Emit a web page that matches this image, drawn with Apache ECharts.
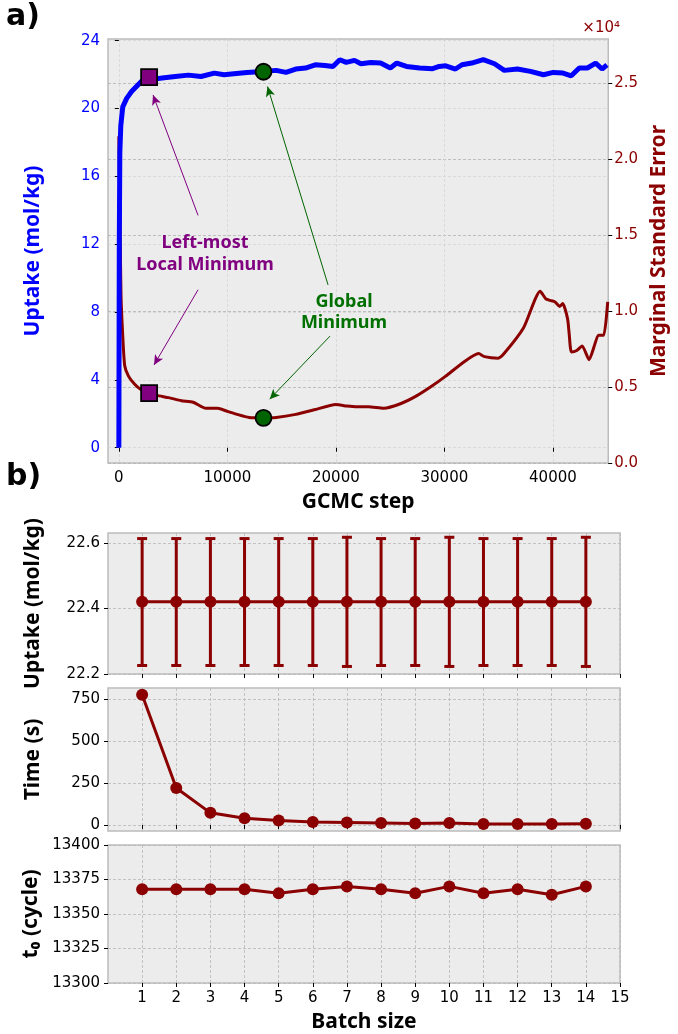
<!DOCTYPE html>
<html>
<head>
<meta charset="utf-8">
<script src="https://cdn.jsdelivr.net/npm/echarts@6/dist/echarts.min.js"></script>
<style>
  html, body { margin: 0; padding: 0; background: #fff; }
  #main { width: 678px; height: 1034px; }
</style>
</head>
<body>
<div id="main"></div>
<script>
// ---- panel a) : uptake + marginal standard error vs GCMC step ----
const uptakeStep = [0, 40, 90, 180, 360, 720, 1170, 1620, 2070, 2790, 3400, 3990, 5200, 6400, 7570,
  8800, 9700, 10600, 11800, 13300, 14500, 15400, 16300, 17200, 18100, 19000, 19730, 20360, 20960,
  21710, 22310, 23220, 24120, 25020, 25610, 26510, 27720, 28920, 29520, 30120, 31020, 31620, 32520,
  33580, 34620, 35520, 36730, 37930, 39130, 40030, 40930, 41690, 42430, 43180, 43940, 44530, 44980];
const uptake = [0, 12, 17.4, 19.0, 20.1, 20.6, 21.0, 21.3, 21.6, 21.85, 21.75, 21.80, 21.89, 21.97, 21.89,
  22.09, 21.99, 22.05, 22.13, 22.19, 22.25, 22.13, 22.33, 22.39, 22.58, 22.54, 22.48, 22.88, 22.72,
  22.84, 22.64, 22.72, 22.68, 22.39, 22.68, 22.48, 22.39, 22.35, 22.48, 22.52, 22.33, 22.58, 22.68,
  22.88, 22.64, 22.25, 22.33, 22.19, 21.99, 22.13, 22.09, 21.93, 22.39, 22.39, 22.68, 22.33, 22.58];

const mseStep = [0, 100, 200, 350, 540, 900, 1440, 2000, 2790, 3500, 4590, 5760, 6850, 8020, 9100,
  10000, 10900, 12000, 13330, 14500, 16300, 18000, 20000, 21000, 21980, 23000, 24410, 25950, 27390,
  28920, 30090, 31890, 33150, 33690, 34950, 35500, 37300, 38830, 39350, 39730, 40200, 40630, 40900,
  41350, 41500, 41710, 42200, 42700, 43330, 44230, 44680, 45050];
const mse = [21500, 16000, 11000, 8500, 6400, 5700, 5200, 4850, 4600, 4450, 4300, 4100, 4000, 3600, 3600,
  3400, 3200, 3000, 2970, 3000, 3200, 3500, 3850, 3750, 3700, 3700, 3600, 3900, 4400,
  5100, 5700, 6700, 7200, 7000, 6900, 7200, 8900, 11300, 10800, 10700, 10600, 10300, 10500,
  9500, 8500, 7300, 7400, 7700, 6800, 8400, 8400, 10600];

// highlighted minima
const localMin = { step: 2790, uptake: 21.85, mse: 4600 };
const globalMin = { step: 13330, uptake: 22.17, mse: 2970 };

// annotation arrows, [from, to] in data units
const arrowLocalUp = [[7300, 13.7], [3150, 20.8]];
const arrowLocalDown = [[7300, 11400], [3240, 6450]];
const arrowGlobalUp = [[19280, 9.6], [13700, 21.3]];
const arrowGlobalDown = [[19460, 8350], [13900, 4200]];

const stepTicks = [0, 10000, 20000, 30000, 40000];
const uptakeTicks = [0, 4, 8, 12, 16, 20, 24];
const mseTicks = [0, 5000, 10000, 15000, 20000, 25000];

// ---- panel b) : convergence vs batch size ----
const batch = [1, 2, 3, 4, 5, 6, 7, 8, 9, 10, 11, 12, 13, 14];
const batchTicks = [1, 2, 3, 4, 5, 6, 7, 8, 9, 10, 11, 12, 13, 14, 15];
const uptakeMean = [22.42, 22.42, 22.42, 22.42, 22.42, 22.42, 22.42, 22.42, 22.42, 22.42, 22.42, 22.42, 22.42, 22.42];
const uptakeHigh = [22.613, 22.613, 22.613, 22.613, 22.613, 22.613, 22.617, 22.613, 22.613, 22.617, 22.613, 22.613, 22.613, 22.617];
const uptakeLow = [22.226, 22.226, 22.226, 22.226, 22.226, 22.226, 22.223, 22.226, 22.226, 22.223, 22.226, 22.226, 22.226, 22.223];
const timeSec = [775, 220, 72, 40, 27, 18, 15, 12, 8, 12, 6, 6, 6, 7];
const t0 = [13368, 13368, 13368, 13368, 13365, 13368, 13370, 13368, 13365, 13370, 13365, 13368, 13364, 13370];

const RED = '#8b0000', BLUE = '#0000ff', PURPLE = '#800080', GREEN = '#006400';
const TICK_FONT = 'DejaVu Sans';
const NAME_FONT = 'Noto Sans';
const NAME_SIZE = 21;

const myChart = echarts.init(document.getElementById('main'), null, { renderer: 'canvas' });

const zip = (a, b) => a.map((v, i) => [v, b[i]]);
const plain = v => String(v);

function gridCfg(top, height) {
  return { left: 108, width: 512, top: top, height: height, show: true,
    backgroundColor: '#ececec', borderColor: '#bcbcbc', borderWidth: 1.5, containLabel: false };
}

function splitStyle(color) {
  return { show: true, lineStyle: { color: color, type: [3, 2], width: 0.8 } };
}

function ticks(values) {
  return { show: true, length: 4, customValues: values, lineStyle: { color: '#000', width: 1 } };
}

function labels(values, color, formatter, margin) {
  return { customValues: values, fontFamily: TICK_FONT, fontSize: 15, color: color || '#000',
    margin: margin || 8, formatter: formatter || plain };
}

function baseAxis(extra) {
  return Object.assign({
    axisLine: { show: false },
    nameTextStyle: { fontFamily: NAME_FONT, fontWeight: 'bold', fontSize: NAME_SIZE, color: '#000' },
    nameLocation: 'middle'
  }, extra);
}

function arrow(pts, color) {
  return {
    silent: true, symbol: ['none', 'arrow'], symbolSize: [7, 10],
    label: { show: false }, animation: false,
    lineStyle: { color: color, width: 1, type: 'solid' },
    data: [[{ coord: pts[0] }, { coord: pts[1] }]]
  };
}

function marker(xIdx, yIdx, pt, symbol, color, arr) {
  return {
    type: 'scatter', xAxisIndex: xIdx, yAxisIndex: yIdx, z: 6,
    symbol: symbol, symbolSize: 16, data: [pt],
    itemStyle: { color: color, borderColor: '#000', borderWidth: 1.8, opacity: 1 },
    markLine: arrow(arr, color)
  };
}

function renderErr(params, api) {
  const x = api.value(0);
  const lo = api.coord([x, api.value(1)]);
  const hi = api.coord([x, api.value(2)]);
  const cap = 5;
  const style = { stroke: RED, lineWidth: 3 };
  return { type: 'group', children: [
    { type: 'line', shape: { x1: lo[0], y1: lo[1], x2: hi[0], y2: hi[1] }, style: style },
    { type: 'line', shape: { x1: lo[0] - cap, y1: lo[1], x2: lo[0] + cap, y2: lo[1] }, style: style },
    { type: 'line', shape: { x1: hi[0] - cap, y1: hi[1], x2: hi[0] + cap, y2: hi[1] }, style: style }
  ] };
}

function batchXAxis(gridIndex, withLabels) {
  const lab = labels(batchTicks);
  lab.show = withLabels;
  return baseAxis({
    type: 'value', gridIndex: gridIndex, min: 0, max: 15,
    axisTick: ticks(batchTicks), axisLabel: lab,
    splitLine: splitStyle('#b8b8b8'),
    name: withLabels ? 'Batch size' : '', nameGap: 29
  });
}

const option = {
  animation: false,
  backgroundColor: '#fff',
  grid: [gridCfg(39, 424), gridCfg(533, 141), gridCfg(688, 143), gridCfg(845, 144)],
  xAxis: [
    baseAxis({
      type: 'value', gridIndex: 0, min: -1000, max: 45100,
      axisTick: ticks(stepTicks), axisLabel: labels(stepTicks),
      splitLine: splitStyle('#d6d6d6'),
      name: 'GCMC step', nameGap: 29
    }),
    batchXAxis(1, false),
    batchXAxis(2, false),
    batchXAxis(3, true)
  ],
  yAxis: [
    baseAxis({
      type: 'value', gridIndex: 0, min: -0.9, max: 24.1, position: 'left',
      axisTick: ticks(uptakeTicks), axisLabel: labels(uptakeTicks, BLUE),
      splitLine: splitStyle('#d6d6d6'),
      name: 'Uptake (mol/kg)', nameGap: 64, nameRotate: 90,
      nameTextStyle: { fontFamily: NAME_FONT, fontWeight: 'bold', fontSize: NAME_SIZE, color: BLUE }
    }),
    baseAxis({
      type: 'value', gridIndex: 0, min: 0, max: 27900, position: 'right',
      axisTick: ticks(mseTicks),
      axisLabel: labels(mseTicks, RED, v => (v / 10000).toFixed(1), 6),
      splitLine: splitStyle('#b2b2b2'),
      name: 'Marginal Standard Error', nameGap: 37, nameRotate: 90,
      nameTextStyle: { fontFamily: NAME_FONT, fontWeight: 'bold', fontSize: NAME_SIZE, color: RED }
    }),
    baseAxis({
      type: 'value', gridIndex: 1, min: 22.2, max: 22.63,
      axisTick: ticks([22.2, 22.4, 22.6]),
      axisLabel: labels([22.2, 22.4, 22.6], '#000', v => v.toFixed(1)),
      splitLine: splitStyle('#b8b8b8'),
      name: 'Uptake (mol/kg)', nameGap: 64, nameRotate: 90
    }),
    baseAxis({
      type: 'value', gridIndex: 2, min: -36, max: 815,
      axisTick: ticks([0, 250, 500, 750]), axisLabel: labels([0, 250, 500, 750]),
      splitLine: splitStyle('#b8b8b8'),
      name: 'Time (s)', nameGap: 64, nameRotate: 90
    }),
    baseAxis({
      type: 'value', gridIndex: 3, min: 13300, max: 13400,
      axisTick: ticks([13300, 13325, 13350, 13375, 13400]),
      axisLabel: labels([13300, 13325, 13350, 13375, 13400]),
      splitLine: splitStyle('#b8b8b8'),
      name: 't₀ (cycle)', nameGap: 64, nameRotate: 90
    })
  ],
  series: [
    {
      type: 'line', xAxisIndex: 0, yAxisIndex: 1, z: 2, showSymbol: false, symbol: 'none',
      data: zip(mseStep, mse), smooth: 0.2,
      lineStyle: { color: RED, width: 3 }
    },
    {
      type: 'line', xAxisIndex: 0, yAxisIndex: 0, z: 3, showSymbol: false, symbol: 'none',
      data: zip(uptakeStep, uptake),
      lineStyle: { color: BLUE, width: 5 }
    },
    marker(0, 0, [localMin.step, localMin.uptake], 'rect', PURPLE, arrowLocalUp),
    marker(0, 1, [localMin.step, localMin.mse], 'rect', PURPLE, arrowLocalDown),
    marker(0, 0, [globalMin.step, globalMin.uptake], 'circle', GREEN, arrowGlobalUp),
    marker(0, 1, [globalMin.step, globalMin.mse], 'circle', GREEN, arrowGlobalDown),

    {
      type: 'custom', xAxisIndex: 1, yAxisIndex: 2, z: 3,
      renderItem: renderErr,
      encode: { x: 0, y: [1, 2] },
      data: batch.map((b, i) => [b, uptakeLow[i], uptakeHigh[i]])
    },
    {
      type: 'line', xAxisIndex: 1, yAxisIndex: 2, z: 4, symbol: 'circle', symbolSize: 12,
      data: zip(batch, uptakeMean),
      lineStyle: { color: RED, width: 3 }, itemStyle: { color: RED }
    },
    {
      type: 'line', xAxisIndex: 2, yAxisIndex: 3, z: 4, symbol: 'circle', symbolSize: 12,
      data: zip(batch, timeSec),
      lineStyle: { color: RED, width: 3 }, itemStyle: { color: RED }
    },
    {
      type: 'line', xAxisIndex: 3, yAxisIndex: 4, z: 4, symbol: 'circle', symbolSize: 12,
      data: zip(batch, t0),
      lineStyle: { color: RED, width: 3 }, itemStyle: { color: RED }
    }
  ],
  graphic: [
    { type: 'text', x: 6, y: 2, style: { text: 'a)', font: 'bold 30px "DejaVu Sans"', fill: '#000' } },
    { type: 'text', x: 6, y: 462, style: { text: 'b)', font: 'bold 30px "DejaVu Sans"', fill: '#000' } },
    { type: 'text', x: 620, y: 28, style: { text: '×10⁴', font: '15px "DejaVu Sans"', fill: RED,
      textAlign: 'right', textVerticalAlign: 'middle' } },
    { type: 'text', x: 205, y: 254, z: 10, style: { text: 'Left-most\nLocal Minimum', font: 'bold 18px "Noto Sans"',
      fill: PURPLE, textAlign: 'center', textVerticalAlign: 'middle', lineHeight: 22 } },
    { type: 'text', x: 344, y: 312, z: 10, style: { text: 'Global\nMinimum', font: 'bold 18px "Noto Sans"',
      fill: '#007000', textAlign: 'center', textVerticalAlign: 'middle', lineHeight: 21 } }
  ]
};

myChart.setOption(option);
</script>
</body>
</html>
